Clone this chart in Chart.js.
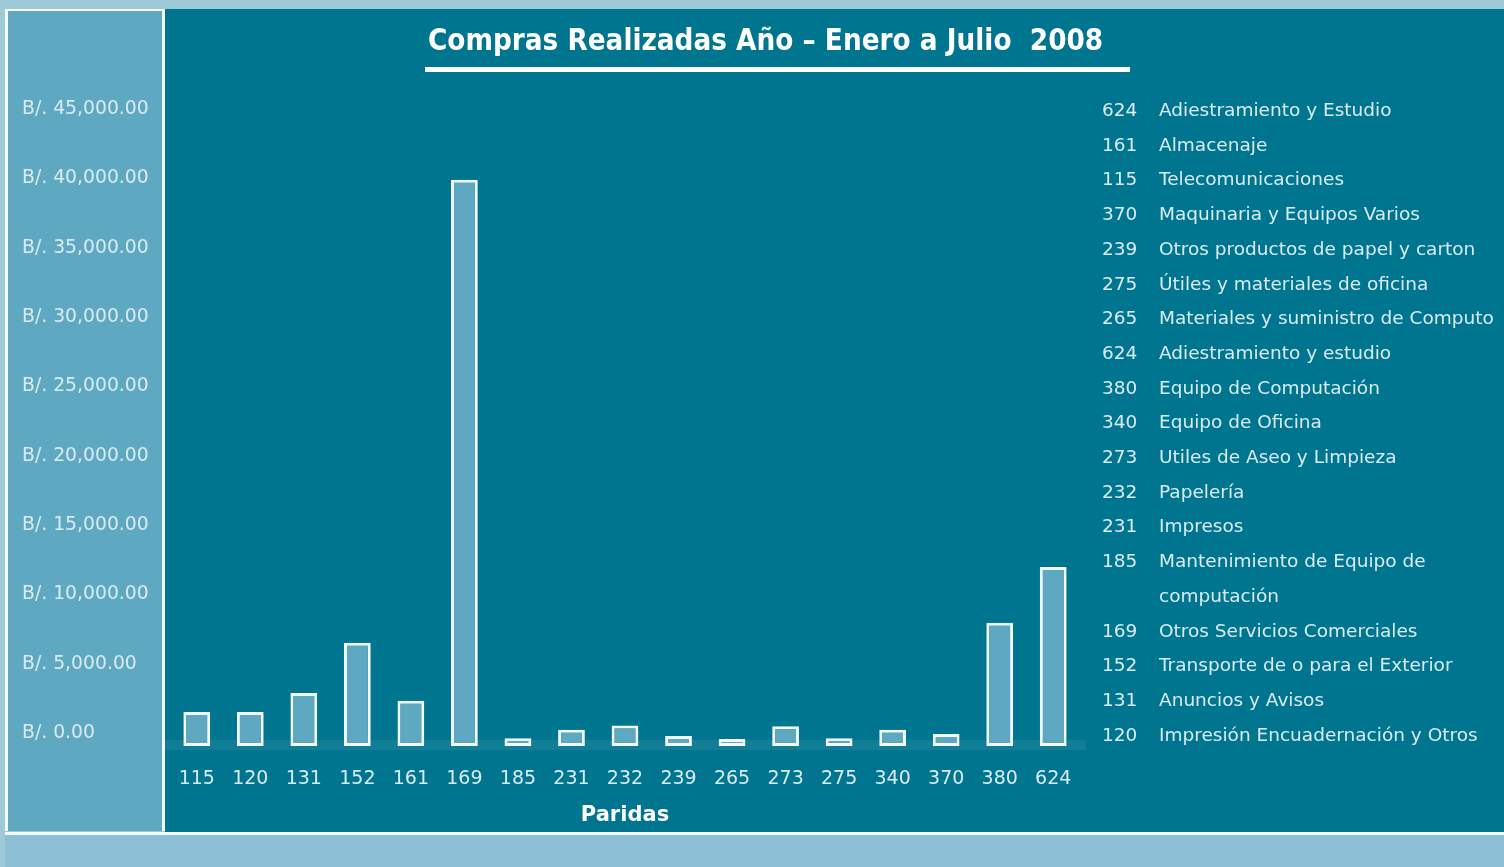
<!DOCTYPE html>
<html>
<head>
<meta charset="utf-8">
<title>Compras Realizadas Año - Enero a Julio 2008</title>
<script src="https://cdn.jsdelivr.net/npm/chart.js@4.4.1/dist/chart.umd.min.js"></script>
<style>
html, body { margin: 0; padding: 0; }
body {
    width: 1504px; height: 867px; position: relative; overflow: hidden;
    background: #9ecad8;
    font-family: "DejaVu Sans", Verdana, sans-serif;
}
#leftPanel {
    position: absolute; left: 5px; top: 9px; width: 154px; height: 820px;
    background: #5fa8c2;
    border-left: 3px solid #f4fafb; border-top: 2px solid #f4fafb; border-right: 3px solid #f4fafb;
}
#mainPanel { position: absolute; left: 165px; top: 9px; right: 0; height: 823px; background: #00758f; }
#bottomStrip {
    position: absolute; left: 5px; right: 0; top: 832px; bottom: 0;
    background: #8dc0d5; border-top: 3px solid #f4fafb;
}
#chart { position: absolute; left: 0; top: 0; }
#title {
    position: absolute; left: 425px; top: 19px; width: 702px; padding-left: 3px;
    height: 48px; line-height: 42px;
    border-bottom: 5px solid #ffffff;
    color: #ffffff; font-family: "DejaVu Sans Condensed", "DejaVu Sans", sans-serif;
    font-weight: bold; font-size: 29.3px; white-space: pre;
}
#legend {
    position: absolute; left: 1102px; top: 93px;
    color: #d9ebf1; font-size: 18.5px; line-height: 34.7px;
}
#legend .row { display: flex; }
#legend .code { width: 57px; }
#legend .name { white-space: pre; }
</style>
</head>
<body>
<div id="leftPanel"></div>
<div id="mainPanel"></div>
<div id="bottomStrip"></div>
<canvas id="chart" width="1504" height="867"></canvas>
<div id="title"></div>
<div id="legend"></div>
<script>
const chartTitle = 'Compras Realizadas Año – Enero a Julio  2008';

// partidas (x axis) and amounts
const partidas = ['115', '120', '131', '152', '161', '169', '185', '231', '232',
    '239', '265', '273', '275', '340', '370', '380', '624'];
const montos = [2400, 2400, 3750, 7300, 3200, 40000, 550, 1150, 1450,
    700, 500, 1400, 550, 1150, 850, 8700, 12650];

// tick labels of the left column
const yTicks = [0, 5000, 10000, 15000, 20000, 25000, 30000, 35000, 40000, 45000];

// list on the right
const legendCodes = ['624', '161', '115', '370', '239', '275', '265', '624', '380',
    '340', '273', '232', '231', '185', '169', '152', '131', '120'];
const legendNames = ['Adiestramiento y Estudio', 'Almacenaje', 'Telecomunicaciones',
    'Maquinaria y Equipos Varios', 'Otros productos de papel y carton',
    'Útiles y materiales de oficina', 'Materiales y suministro de Computo',
    'Adiestramiento y estudio', 'Equipo de Computación', 'Equipo de Oficina',
    'Utiles de Aseo y Limpieza', 'Papelería', 'Impresos',
    'Mantenimiento de Equipo de\ncomputación', 'Otros Servicios Comerciales',
    'Transporte de o para el Exterior', 'Anuncios y Avisos',
    'Impresión Encuadernación y Otros'];

const txtColor = '#d9ebf1';
const fontFam = '"DejaVu Sans", Verdana, sans-serif';

document.getElementById('title').textContent = chartTitle;

// legend as html text
let legendBox = document.getElementById('legend');
for (let i = 0; i < legendCodes.length; i++) {
    let row = document.createElement('div');
    row.className = 'row';
    row.innerHTML = '<span class="code"></span><span class="name"></span>';
    row.children[0].textContent = legendCodes[i];
    row.children[1].textContent = legendNames[i];
    legendBox.appendChild(row);
}

function money(v) {
    return 'B/. ' + v.toLocaleString('en-US', {minimumFractionDigits: 2, maximumFractionDigits: 2});
}

// lighter floor band under the bars
const floorBand = {
    id: 'floorBand',
    beforeDatasetsDraw(chart) {
        const {ctx, chartArea} = chart;
        ctx.save();
        ctx.fillStyle = 'rgba(255,255,255,0.07)';
        ctx.fillRect(165, chartArea.bottom - 6, chartArea.right + 6 - 165, 10);
        ctx.restore();
    }
};

let chart = new Chart(document.getElementById('chart'), {
    type: 'bar',
    data: {
        labels: partidas,
        datasets: [{
            data: montos,
            backgroundColor: '#5fa8c2',
            borderColor: '#f4fafb',
            borderWidth: 3,
            borderSkipped: false,
            barPercentage: 0.5,
            categoryPercentage: 1
        }]
    },
    options: {
        responsive: false,
        animation: false,
        layout: {
            padding: {left: 22, right: 424, top: 109, bottom: 39}
        },
        plugins: {
            legend: {display: false},
            tooltip: {enabled: false}
        },
        scales: {
            x: {
                grid: {display: false, drawTicks: false},
                border: {display: false},
                afterFit(scale) {
                    scale.height = 82;
                },
                ticks: {color: txtColor, font: {family: fontFam, size: 19}, padding: 22},
                title: {
                    display: true,
                    text: 'Paridas',
                    color: '#ffffff',
                    font: {family: fontFam, size: 21, weight: 'bold', lineHeight: 1.2},
                    padding: {top: 13, bottom: 0}
                }
            },
            y: {
                display: false,
                min: 0,
                max: 45000
            },
            yLabels: {
                position: 'left',
                min: -937,
                max: 45000,
                grid: {display: false, drawTicks: false},
                border: {display: false},
                afterBuildTicks(scale) {
                    scale.ticks = yTicks.map(v => ({value: v}));
                },
                afterFit(scale) {
                    scale.width = 148;
                },
                ticks: {
                    color: txtColor,
                    crossAlign: 'far',
                    font: {family: fontFam, size: 18.8},
                    callback: v => money(v)
                }
            }
        }
    },
    plugins: [floorBand]
});
</script>
</body>
</html>
